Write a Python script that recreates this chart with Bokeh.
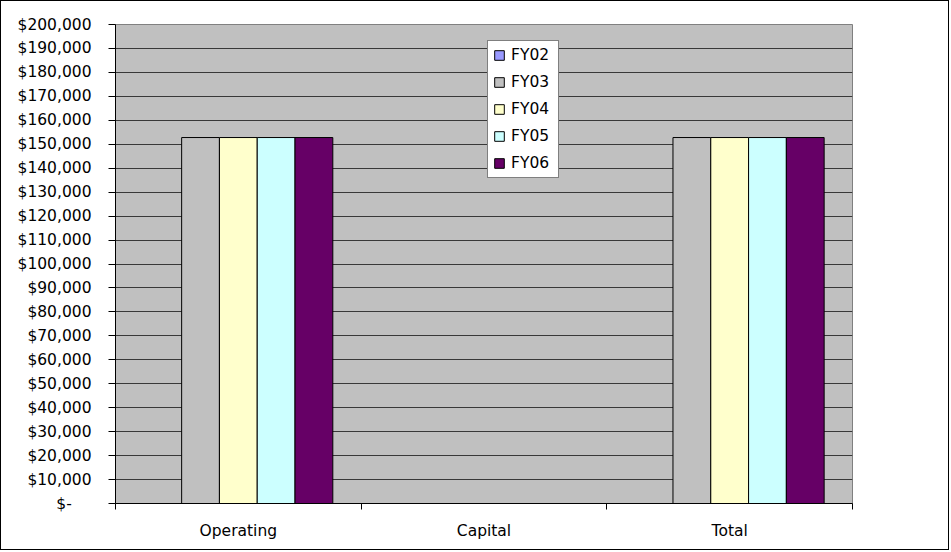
from bokeh.plotting import figure
from bokeh.models import Range1d, FixedTicker, Legend, LegendItem, ColumnDataSource
from bokeh.transform import dodge
from bokeh.embed import file_html
from bokeh.resources import INLINE

# Budget by category and fiscal year
categories = ["Operating", "Capital", "Total"]
fy02 = [0, 0, 0]
fy03 = [152800, 0, 152800]
fy04 = [152800, 0, 152800]
fy05 = [152800, 0, 152800]
fy06 = [152800, 0, 152800]
series_names = ["FY02", "FY03", "FY04", "FY05", "FY06"]
series_values = [fy02, fy03, fy04, fy05, fy06]
series_colors = ["#9999FF", "#C0C0C0", "#FFFFCC", "#CCFFFF", "#660066"]

y_ticks = list(range(0, 200001, 10000))
y_labels = ["$-\u00a0\u00a0\u00a0\u00a0"] + ["${:,}".format(v) for v in y_ticks[1:]]

FONT = "DejaVu Sans"
FSIZE = "15.5px"

p = figure(
    width=949, height=550,
    x_range=Range1d(0, len(categories)),
    y_range=Range1d(0, 200000),
    output_backend="svg", toolbar_location=None,
    min_border_left=114, min_border_right=98,
    min_border_top=23, min_border_bottom=48,
)
p.styles = {"border": "1px solid #000000"}
p.background_fill_color = "#C0C0C0"
p.border_fill_color = "#FFFFFF"
p.outline_line_color = "#808080"
p.outline_line_width = 1

p.xgrid.grid_line_color = None
p.ygrid.ticker = FixedTicker(ticks=y_ticks)
p.ygrid.grid_line_color = "#383838"
p.ygrid.grid_line_width = 1

# category centres; bars grouped with a 150% gap width
centers = [i + 0.5 for i in range(len(categories))]
bar_w = 1 / 6.5
src = ColumnDataSource(dict(x=centers, **{n: v for n, v in zip(series_names, series_values)}))

items = []
for k, (name, color) in enumerate(zip(series_names, series_colors)):
    r = p.vbar(x=dodge("x", (k - 2) * bar_w, range=p.x_range), top=name, bottom=0,
               width=bar_w, source=src, fill_color=color,
               line_color="#000000", line_width=1)
    items.append(LegendItem(label=name, renderers=[r]))

# y axis
ya = p.yaxis[0]
ya.ticker = FixedTicker(ticks=y_ticks)
ya.major_label_overrides = {t: l for t, l in zip(y_ticks, y_labels)}
ya.major_tick_out = 7
ya.major_tick_in = 0
ya.minor_tick_out = 0
ya.minor_tick_in = 0
ya.axis_line_color = "#000000"
ya.major_tick_line_color = "#000000"
ya.major_label_text_font = FONT
ya.major_label_text_font_size = FSIZE
ya.major_label_text_color = "#000000"
ya.major_label_standoff = 17

# x axis: labels centred, ticks on category boundaries
xa = p.xaxis[0]
xa.ticker = FixedTicker(ticks=centers, minor_ticks=list(range(len(categories) + 1)))
xa.major_label_overrides = {c: n for c, n in zip(centers, categories)}
xa.major_tick_out = 0
xa.major_tick_in = 0
xa.minor_tick_out = 6
xa.minor_tick_in = 0
xa.minor_tick_line_color = "#000000"
xa.axis_line_color = "#000000"
xa.major_label_text_font = FONT
xa.major_label_text_font_size = FSIZE
xa.major_label_text_color = "#000000"
xa.major_label_standoff = 12

legend = Legend(items=items, location=(372, 325))
legend.label_text_font = FONT
legend.label_text_font_size = FSIZE
legend.label_text_color = "#000000"
legend.glyph_width = 12
legend.glyph_height = 12
legend.label_height = 18
legend.label_width = 42
legend.label_standoff = 6
legend.spacing = 9
legend.padding = 5
legend.margin = 0
legend.border_line_color = "#000000"
legend.border_line_width = 1
legend.background_fill_color = "#FFFFFF"
legend.background_fill_alpha = 1
p.add_layout(legend)

open("out.html", "w").write(file_html(p, INLINE))
